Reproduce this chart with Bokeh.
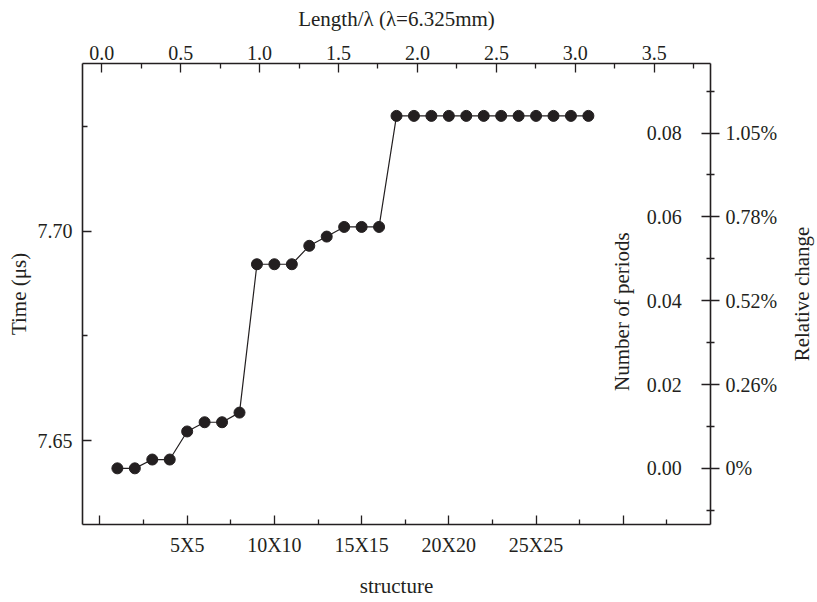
import math
from bokeh.plotting import figure
from bokeh.layouts import row
from bokeh.models import Range1d, LinearAxis, FixedTicker, Label
from bokeh.embed import file_html
from bokeh.resources import INLINE

# ---- data ----
structure_n = [1, 2, 3, 4, 5, 6, 7, 8, 9, 10, 11, 12, 13, 14,
               15, 16, 17, 18, 19, 20, 21, 22, 23, 24, 25, 26, 27, 28]
time_us = [7.6434, 7.6434, 7.6455, 7.6455, 7.6522, 7.6544, 7.6544, 7.6567,
           7.6921, 7.6921, 7.6921, 7.6965, 7.6987, 7.7010, 7.7010, 7.7010,
           7.7275, 7.7275, 7.7275, 7.7275, 7.7275, 7.7275, 7.7275, 7.7275,
           7.7275, 7.7275, 7.7275, 7.7275]

structure_ticks = [0, 5, 10, 15, 20, 25, 30]
structure_labels = ["", "5X5", "10X10", "15X15", "20X20", "25X25", ""]
structure_minor = [2.5, 7.5, 12.5, 17.5, 22.5, 27.5, 32.5]

length_ticks = [0.0, 0.5, 1.0, 1.5, 2.0, 2.5, 3.0, 3.5]
length_minor = [0.25, 0.75, 1.25, 1.75, 2.25, 2.75, 3.25, 3.75]

time_ticks = [7.65, 7.70]
time_minor = [7.675, 7.725]

period_ticks = [0.0, 0.02, 0.04, 0.06, 0.08]
period_labels = ["0.00", "0.02", "0.04", "0.06", "0.08"]
period_minor = [-0.01, 0.01, 0.03, 0.05, 0.07, 0.09]
relative_labels = ["0%", "0.26%", "0.52%", "0.78%", "1.05%"]

x_lo, x_hi = -1.0, 35.0
len_lo, len_hi = -0.1216, 3.856
y_lo, y_hi = 7.63, 7.74
t0 = time_us[0]

INK = "#231f20"
FONT = "Liberation Serif"
FS = "20px"
TS = "21px"

p = figure(width=780, height=600, output_backend="svg", toolbar_location=None,
           x_range=Range1d(x_lo, x_hi), y_range=Range1d(y_lo, y_hi),
           min_border_left=82, min_border_right=67, min_border_top=63,
           min_border_bottom=71)
p.extra_x_ranges = {"top": Range1d(len_lo, len_hi)}
p.extra_y_ranges = {"right": Range1d(y_lo - t0, y_hi - t0)}
p.xgrid.visible = False
p.ygrid.visible = False
p.outline_line_color = None
p.background_fill_color = "white"
p.border_fill_color = "white"


def style(ax, tick_in, tick_out, minor_in, minor_out):
    ax.axis_line_color = INK
    ax.axis_line_width = 1.6
    ax.major_tick_line_color = INK
    ax.minor_tick_line_color = INK
    ax.major_tick_line_width = 1.3
    ax.minor_tick_line_width = 1.3
    ax.major_tick_in = tick_in
    ax.major_tick_out = tick_out
    ax.minor_tick_in = minor_in
    ax.minor_tick_out = minor_out
    ax.major_label_text_font = FONT
    ax.major_label_text_font_size = FS
    ax.major_label_text_color = INK
    ax.axis_label_text_font = FONT
    ax.axis_label_text_font_size = TS
    ax.axis_label_text_font_style = "normal"
    ax.axis_label_text_color = INK


# bottom axis
bx = p.xaxis[0]
bx.ticker = FixedTicker(ticks=structure_ticks, minor_ticks=structure_minor)
bx.major_label_overrides = {t: l for t, l in zip(structure_ticks, structure_labels)}
bx.axis_label = "structure"
style(bx, 9, 0, 5, 0)
bx.major_label_standoff = 9
bx.axis_label_standoff = 15

# left axis
ly = p.yaxis[0]
ly.ticker = FixedTicker(ticks=time_ticks, minor_ticks=time_minor)
ly.major_label_overrides = {t: f"{t:.2f}" for t in time_ticks}
ly.axis_label = "Time (μs)"
style(ly, 9, 0, 5, 0)
ly.major_label_standoff = 10
ly.axis_label_standoff = 4

# top axis
tx = LinearAxis(x_range_name="top",
                ticker=FixedTicker(ticks=length_ticks, minor_ticks=length_minor),
                axis_label="Length/λ (λ=6.325mm)")
tx.major_label_overrides = {t: f"{t:.1f}" for t in length_ticks}
style(tx, 9, 0, 5, 0)
tx.major_label_standoff = 4
tx.axis_label_standoff = 12
p.add_layout(tx, "above")

# right axis (relative change tick labels outside)
ry = LinearAxis(y_range_name="right",
                ticker=FixedTicker(ticks=period_ticks, minor_ticks=period_minor))
ry.major_label_overrides = {t: l for t, l in zip(period_ticks, relative_labels)}
style(ry, 9, 9, 4, 4)
ry.major_label_standoff = 6
p.add_layout(ry, "right")

# inner labels for "Number of periods"
lab_x = x_hi - 1.65
for t, l in zip(period_ticks, period_labels):
    p.add_layout(Label(x=lab_x, y=t, y_range_name="right", text=l,
                       text_align="right", text_baseline="middle",
                       text_font=FONT, text_font_size=FS, text_color=INK))
p.add_layout(Label(x=x_hi - 5.05, y=0.0374, y_range_name="right",
                   text="Number of periods", angle=math.pi / 2,
                   text_align="center", text_baseline="middle",
                   text_font=FONT, text_font_size=TS, text_color=INK))

# data
p.line(structure_n, time_us, line_color=INK, line_width=1.2)
p.scatter(structure_n, time_us, size=11, fill_color=INK, line_color=INK)

# narrow companion figure carrying the "Relative change" title (reads upward)
p2 = figure(width=35, height=600, output_backend="svg", toolbar_location=None,
            x_range=Range1d(0, 1), y_range=Range1d(0, 1),
            min_border_left=33, min_border_right=0, min_border_top=63,
            min_border_bottom=71)
p2.outline_line_color = None
p2.xgrid.visible = False
p2.ygrid.visible = False
p2.xaxis.visible = False
ra = p2.yaxis[0]
ra.ticker = FixedTicker(ticks=[])
ra.axis_line_color = None
ra.major_tick_in = 0
ra.major_tick_out = 0
ra.minor_tick_in = 0
ra.minor_tick_out = 0
ra.major_label_standoff = 0
ra.axis_label = "Relative change"
ra.axis_label_standoff = 0
ra.axis_label_text_font = FONT
ra.axis_label_text_font_size = TS
ra.axis_label_text_font_style = "normal"
ra.axis_label_text_color = INK

layout = row(p, p2)
open("out.html", "w").write(file_html(layout, INLINE))
